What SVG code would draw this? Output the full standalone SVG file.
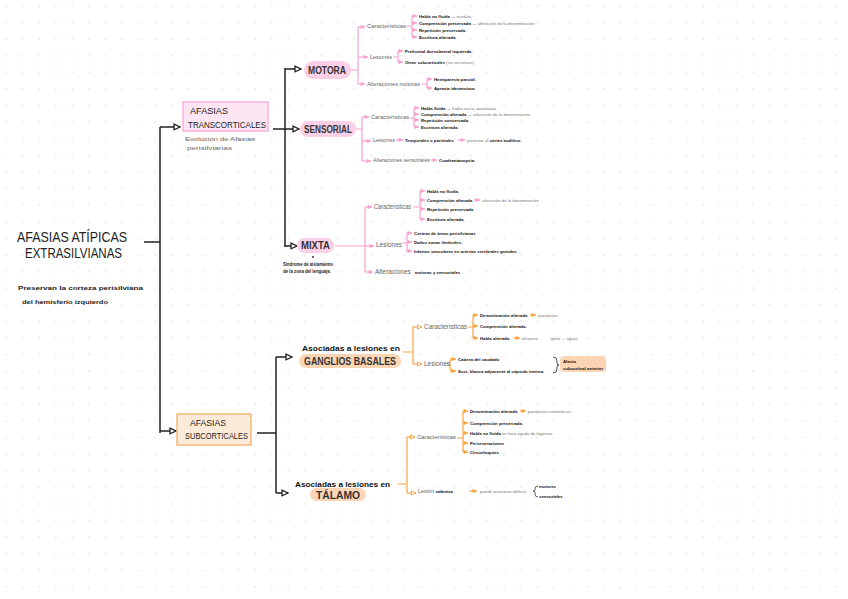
<svg xmlns="http://www.w3.org/2000/svg" width="848" height="599" viewBox="0 0 848 599">
<defs>
<pattern id="dots" x="4" y="4" width="16.6" height="16.6" patternUnits="userSpaceOnUse">
<circle cx="2" cy="2" r="0.75" fill="#d4d4d4"/>
</pattern>
<marker id="ab" viewBox="0 0 10 10" refX="9" refY="5" markerWidth="8" markerHeight="8" markerUnits="userSpaceOnUse" orient="auto">
<path d="M1.5,1.5 L9,5 L1.5,8.5 Z" fill="#fff" stroke="#222" stroke-width="1.6"/>
</marker>
<marker id="ap" viewBox="0 0 10 10" refX="9" refY="5" markerWidth="5.5" markerHeight="5.5" markerUnits="userSpaceOnUse" orient="auto">
<path d="M1,1 L9,5 L1,9 Z" fill="#f7a1cf"/>
</marker>
<marker id="ao" viewBox="0 0 10 10" refX="9" refY="5" markerWidth="5.5" markerHeight="5.5" markerUnits="userSpaceOnUse" orient="auto">
<path d="M1,1 L9,5 L1,9 Z" fill="#f5a442"/>
</marker>
<marker id="aoo" viewBox="0 0 10 10" refX="9" refY="5" markerWidth="6" markerHeight="6" markerUnits="userSpaceOnUse" orient="auto">
<path d="M1.5,1.5 L9,5 L1.5,8.5 Z" fill="#fff" stroke="#f5a442" stroke-width="1.6"/>
</marker>
</defs>
<style>
text{font-family:"Liberation Sans",Arial,sans-serif;}
.ti{font-size:14px;fill:#222;}
.sub{font-size:6px;font-weight:bold;fill:#222;}
.box{font-size:9px;fill:#222;}
.gn{font-size:5.5px;fill:#666;}
.pill{font-size:10px;font-weight:bold;fill:#333;}
.lb{font-size:5.5px;fill:#666;}
.lb2{font-size:6.5px;fill:#666;}
.it{font-size:4.3px;font-weight:bold;fill:#111;}
.nt{font-weight:normal;fill:#777;}
.as{font-size:7.5px;font-weight:bold;fill:#111;}
.bl{fill:none;stroke:#222;stroke-width:1.5;}
.pl{fill:none;stroke:#f7a1cf;stroke-width:1.2;}
.ol{fill:none;stroke:#f5a442;stroke-width:1.2;}
</style>
<rect width="848" height="599" fill="#fff"/>
<rect width="848" height="599" fill="url(#dots)"/>

<g id="connectors">
<!-- black main -->
<path class="bl" d="M144,242 H160"/>
<path class="bl" d="M160,127 V433"/>
<path class="bl" d="M160,127 H180" marker-end="url(#ab)"/>
<path class="bl" d="M160,431 H176" marker-end="url(#ab)"/>
<path class="bl" d="M273,129 H285"/>
<path class="bl" d="M285,68 V247"/>
<path class="bl" d="M285,69 H301" marker-end="url(#ab)"/>
<path class="bl" d="M285,129 H299" marker-end="url(#ab)"/>
<path class="bl" d="M285,246 H297" marker-end="url(#ab)"/>
<path class="bl" d="M257,433 H276"/>
<path class="bl" d="M276,357 V493"/>
<path class="bl" d="M276,357 H292" marker-end="url(#ab)"/>
<path class="bl" d="M276,493 H288" marker-end="url(#ab)"/>
<!-- motora -->
<path class="pl" d="M351,70 H358 M358,27 V84"/>
<path class="pl" d="M358,27 H365" marker-end="url(#ap)"/>
<path class="pl" d="M358,57 H368" marker-end="url(#ap)"/>
<path class="pl" d="M358,84 H365" marker-end="url(#ap)"/>
<path class="pl" d="M406,26 H412 M412,16 V37"/>
<path class="pl" d="M412,16 H417" marker-end="url(#ap)"/>
<path class="pl" d="M412,23 H417" marker-end="url(#ap)"/>
<path class="pl" d="M412,30 H417" marker-end="url(#ap)"/>
<path class="pl" d="M412,37 H417" marker-end="url(#ap)"/>
<path class="pl" d="M393,57 H398 M398,51 V62"/>
<path class="pl" d="M398,51 H403" marker-end="url(#ap)"/>
<path class="pl" d="M398,62 H403" marker-end="url(#ap)"/>
<path class="pl" d="M422,84 H427 M427,79 V88"/>
<path class="pl" d="M427,79 H432" marker-end="url(#ap)"/>
<path class="pl" d="M427,88 H432" marker-end="url(#ap)"/>
<!-- sensorial -->
<path class="pl" d="M356,129 H362 M362,117 V161"/>
<path class="pl" d="M362,117 H369" marker-end="url(#ap)"/>
<path class="pl" d="M362,141 H371" marker-end="url(#ap)"/>
<path class="pl" d="M362,161 H371" marker-end="url(#ap)"/>
<path class="pl" d="M410,118 H414 M414,108 V127"/>
<path class="pl" d="M414,108 H419" marker-end="url(#ap)"/>
<path class="pl" d="M414,114 H419" marker-end="url(#ap)"/>
<path class="pl" d="M414,120 H419" marker-end="url(#ap)"/>
<path class="pl" d="M414,127 H419" marker-end="url(#ap)"/>
<path class="pl" d="M396,140 H403" marker-end="url(#ap)"/>
<path class="pl" d="M458,140 H465" marker-end="url(#ap)"/>
<path class="pl" d="M431,160 H437" marker-end="url(#ap)"/>
<!-- mixta -->
<path class="pl" d="M335,246 H365 M365,207 V272"/>
<path class="pl" d="M365,207 H372" marker-end="url(#ap)"/>
<path class="pl" d="M365,246 H374" marker-end="url(#ap)"/>
<path class="pl" d="M365,272 H373" marker-end="url(#ap)"/>
<path class="pl" d="M413,207 H420 M420,191 V219"/>
<path class="pl" d="M420,191 H425" marker-end="url(#ap)"/>
<path class="pl" d="M420,200 H425" marker-end="url(#ap)"/>
<path class="pl" d="M420,209 H425" marker-end="url(#ap)"/>
<path class="pl" d="M420,219 H425" marker-end="url(#ap)"/>
<path class="pl" d="M402,243 H407 M407,233 V252"/>
<path class="pl" d="M407,233 H412" marker-end="url(#ap)"/>
<path class="pl" d="M407,242 H412" marker-end="url(#ap)"/>
<path class="pl" d="M407,251 H412" marker-end="url(#ap)"/>
<path class="pl" d="M474,200 H480" marker-end="url(#ap)"/>
<!-- ganglios -->
<path class="ol" d="M403,352 H413 M413,327 V364"/>
<path class="ol" d="M413,327 H422" marker-end="url(#aoo)"/>
<path class="ol" d="M413,364 H422" marker-end="url(#aoo)"/>
<path class="ol" d="M468,327 H473 M473,315 V338"/>
<path class="ol" d="M473,315 H478" marker-end="url(#ao)"/>
<path class="ol" d="M473,326 H478" marker-end="url(#ao)"/>
<path class="ol" d="M473,338 H478" marker-end="url(#ao)"/>
<path class="ol" d="M447,365 H450 M455,359 Q450,359 450,362 V368 Q450,371 455,371"/>
<path class="ol" d="M450,359 H456" marker-end="url(#ao)"/>
<path class="ol" d="M450,371 H456" marker-end="url(#ao)"/>
<path class="ol" d="M530,315 H536" marker-end="url(#ao)"/>
<path class="ol" d="M514,338 H520" marker-end="url(#ao)"/>
<!-- talamo -->
<path class="ol" d="M398,484 H407 M407,437 V493"/>
<path class="ol" d="M407,437 H415" marker-end="url(#aoo)"/>
<path class="ol" d="M407,493 H416" marker-end="url(#aoo)"/>
<path class="ol" d="M457,438 H463 M463,411 V452"/>
<path class="ol" d="M463,411 H468" marker-end="url(#ao)"/>
<path class="ol" d="M463,423 H468" marker-end="url(#ao)"/>
<path class="ol" d="M463,433 H468" marker-end="url(#ao)"/>
<path class="ol" d="M463,443 H468" marker-end="url(#ao)"/>
<path class="ol" d="M463,452 H468" marker-end="url(#ao)"/>
<path class="ol" d="M520,411 H526" marker-end="url(#ao)"/>
<path class="ol" d="M469,491 H477" marker-end="url(#ao)"/>
</g>

<g id="title">
<text class="ti" x="17" y="242" textLength="110" lengthAdjust="spacingAndGlyphs">AFASIAS ATÍPICAS</text>
<text class="ti" x="25" y="258" font-size="13" textLength="97" lengthAdjust="spacingAndGlyphs">EXTRASILVIANAS</text>
<text class="sub" x="18" y="290" textLength="125" lengthAdjust="spacingAndGlyphs">Preservan la corteza perisilviana</text>
<text class="sub" x="22" y="304" textLength="86" lengthAdjust="spacingAndGlyphs">del hemisferio izquierdo</text>
</g>

<g id="transcorticales">
<rect x="183" y="102" width="85" height="29" fill="#fde6f2" stroke="#f7a8d5" stroke-width="1.3"/>
<text class="box" x="190" y="114" textLength="38" lengthAdjust="spacingAndGlyphs">AFASIAS</text>
<text class="box" x="188" y="128" textLength="78" lengthAdjust="spacingAndGlyphs">TRANSCORTICALES</text>
<text class="gn" x="185" y="141" textLength="70" lengthAdjust="spacingAndGlyphs">Evolución de Afasias</text>
<text class="gn" x="187" y="150" textLength="45" lengthAdjust="spacingAndGlyphs">perisilvianas</text>
</g>

<g id="motora">
<rect x="304" y="61" width="47" height="18" rx="9" fill="#fbd0e6"/>
<text class="pill" x="308" y="74" font-size="9.5" textLength="38" lengthAdjust="spacingAndGlyphs">MOTORA</text>
<text class="lb" x="367" y="28" textLength="39" lengthAdjust="spacingAndGlyphs">Características</text>
<text class="it" x="419" y="18">Habla no fluida → <tspan class="nt">ecolalia</tspan></text>
<text class="it" x="419" y="25">Comprensión preservada → <tspan class="nt">alteración de la denominación</tspan></text>
<text class="it" x="419" y="32">Repetición preservada.</text>
<text class="it" x="419" y="39">Escritura alterada.</text>
<text class="lb" x="370" y="59">Lesiones</text>
<text class="it" x="405" y="53">Prefrontal dorsolateral izquierda.</text>
<text class="it" x="405" y="64">Otras subcorticales <tspan class="nt">(no sensitivas)</tspan></text>
<text class="lb" x="367" y="86" textLength="53" lengthAdjust="spacingAndGlyphs">Alteraciones motoras</text>
<text class="it" x="434" y="81">Hemiparesia parcial.</text>
<text class="it" x="434" y="90">Apraxia ideomotora.</text>
</g>

<g id="sensorial">
<rect x="300" y="121" width="56" height="16" rx="8" fill="#fbd0e6"/>
<text class="pill" x="304" y="133" font-size="9" textLength="48" lengthAdjust="spacingAndGlyphs">SENSORIAL</text>
<text class="lb" x="371" y="119" textLength="38" lengthAdjust="spacingAndGlyphs">Características</text>
<text class="it" x="421" y="110">Habla fluida → <tspan class="nt">habla vacía, parafasias</tspan></text>
<text class="it" x="421" y="116">Comprensión alterada → <tspan class="nt">alteración de la denominación</tspan></text>
<text class="it" x="421" y="122">Repetición conservada.</text>
<text class="it" x="421" y="129">Escritura alterada.</text>
<text class="lb" x="373" y="142">Lesiones</text>
<text class="it" x="405" y="142">Temporales o parietales</text>
<text class="it" x="467" y="142"><tspan class="nt">posterior al</tspan> córtex auditivo.</text>
<text class="lb" x="373" y="162" textLength="57" lengthAdjust="spacingAndGlyphs">Alteraciones sensoriales</text>
<text class="it" x="439" y="162">Cuadrantanopsia.</text>
</g>

<g id="mixta">
<rect x="297" y="238" width="37" height="15" rx="7.5" fill="#fbd0e6"/>
<text class="pill" x="301" y="249" font-size="8.5" textLength="29" lengthAdjust="spacingAndGlyphs">MIXTA</text>
<circle cx="313" cy="257" r="0.9" fill="#222"/>
<text class="sub" x="283" y="266" font-size="5" textLength="50" lengthAdjust="spacingAndGlyphs">Síndrome de aislamiento</text>
<text class="sub" x="283" y="273" font-size="5" textLength="48" lengthAdjust="spacingAndGlyphs">de la zona del lenguaje.</text>
<text class="lb2" x="374" y="209" textLength="37" lengthAdjust="spacingAndGlyphs">Características</text>
<text class="it" x="427" y="193">Habla no fluida.</text>
<text class="it" x="427" y="202">Comprensión alterada</text>
<text class="it" x="482" y="202"><tspan class="nt">alteración de la denominación</tspan></text>
<text class="it" x="427" y="211">Repetición preservada.</text>
<text class="it" x="427" y="221">Escritura alterada.</text>
<text class="lb2" x="376" y="247">Lesiones</text>
<text class="it" x="414" y="235">Corteza de áreas perisilvianas</text>
<text class="it" x="414" y="244">Daños zonas limítrofes.</text>
<text class="it" x="414" y="253">Infartos vasculares en arterias cerebrales grandes</text>
<text class="lb2" x="375" y="274"><tspan>Alteraciones</tspan><tspan class="it" font-size="5" dx="4">motoras y sensoriales</tspan></text>
</g>

<g id="subcorticales">
<rect x="177" y="414" width="74" height="31" fill="#fdebd9" stroke="#f5b06a" stroke-width="1.3"/>
<text class="box" x="190" y="426" textLength="36" lengthAdjust="spacingAndGlyphs">AFASIAS</text>
<text class="box" x="185" y="439" textLength="63" lengthAdjust="spacingAndGlyphs">SUBCORTICALES</text>
</g>

<g id="ganglios">
<text class="as" x="302" y="351" textLength="98" lengthAdjust="spacingAndGlyphs">Asociadas a lesiones en</text>
<rect x="299" y="354" width="102" height="14" rx="7" fill="#fcd5b5"/>
<text class="pill" x="304" y="365" font-size="9.5" textLength="92" lengthAdjust="spacingAndGlyphs">GANGLIOS BASALES</text>
<text class="lb2" x="424" y="329" textLength="43" lengthAdjust="spacingAndGlyphs">Características</text>
<text class="it" x="480" y="317">Denominación alterada</text>
<text class="it" x="538" y="317"><tspan class="nt">parafasias</tspan></text>
<text class="it" x="480" y="328">Comprensión alterada.</text>
<text class="it" x="480" y="340">Habla alterada</text>
<text class="it" x="522" y="340"><tspan class="nt">disartria.</tspan><tspan class="nt" dx="12">(pelo → agua)</tspan></text>
<text class="lb2" x="424" y="366">Lesiones</text>
<text class="it" x="458" y="361">Cabeza del caudado</text>
<text class="it" x="458" y="373">Sust. blanca adyacente al cápsula interna.</text>
<path d="M553,357 Q557,357 557,361 V363 Q557,365 559,365 Q557,365 557,367 V369 Q557,373 553,373" fill="none" stroke="#222" stroke-width="0.8"/>
<rect x="560" y="356" width="46" height="16" rx="4" fill="#fcd5b5"/>
<text class="it" x="563" y="363">Afasia</text>
<text class="it" x="563" y="369.5" font-size="4">subcortical anterior</text>
</g>

<g id="talamo">
<text class="as" x="295" y="487" textLength="95" lengthAdjust="spacingAndGlyphs">Asociadas a lesiones en</text>
<rect x="310" y="488" width="56" height="13" rx="6.5" fill="#fcd5b5"/>
<text class="pill" x="316" y="499" font-size="10" textLength="44" lengthAdjust="spacingAndGlyphs">TÁLAMO</text>
<text class="lb" x="417" y="439" textLength="39" lengthAdjust="spacingAndGlyphs">Características</text>
<text class="it" x="470" y="413">Denominación alterada</text>
<text class="it" x="528" y="413"><tspan class="nt">parafasias semánticas.</tspan></text>
<text class="it" x="470" y="425">Comprensión preservada.</text>
<text class="it" x="470" y="435">Habla no fluida <tspan class="nt">en fase aguda de logorrea.</tspan></text>
<text class="it" x="470" y="445">Perseveraciones</text>
<text class="it" x="470" y="454">Circunloquios</text>
<text class="lb" x="418" y="493">Lesión <tspan class="it">talámica</tspan></text>
<text class="it" x="480" y="493"><tspan class="nt">puede ocasionar déficits</tspan></text>
<path d="M538,486 Q535,486 535,489 V490 Q535,491 533,491 Q535,491 535,492 V494 Q535,497 538,497" fill="none" stroke="#222" stroke-width="0.7"/>
<text class="it" x="539" y="488">motores</text>
<text class="it" x="539" y="498">sensoriales</text>
</g>
</svg>
